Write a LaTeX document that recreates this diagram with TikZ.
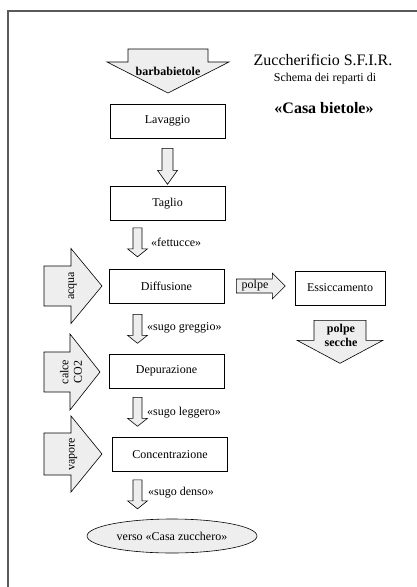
\documentclass[tikz,border=0pt]{standalone}
\usepackage{fontspec}
\setmainfont{Liberation Serif}
\usetikzlibrary{positioning,shapes.geometric}
\definecolor{arrGray}{HTML}{EEEEEE}
\definecolor{frameGray}{HTML}{5A5A5A}

\begin{document}
\begin{tikzpicture}[
x=1pt, y=-1pt,
every node/.style={font=\fontsize{12}{13.5}\selectfont},
stage/.style={draw, line width=0.6pt, align=center, inner sep=3pt, minimum width=115pt, minimum height=34pt},
exitnode/.style={draw, ellipse, line width=0.6pt, fill=arrGray, minimum width=170pt, minimum height=34pt, inner sep=1pt},
blk/.style={draw, line width=0.6pt, fill=arrGray, line join=miter},
feed/.style={rotate=90, align=center, inner sep=0pt},
flow/.style={anchor=west, inner sep=0pt},
heavy/.style={font=\fontsize{12}{14}\selectfont\bfseries, align=center, inner sep=0pt},
titleT/.style={font=\fontsize{16}{18}\selectfont}
]
\useasboundingbox (0,0) rectangle (416,587);
% cropped frame
\draw[frameGray, line width=1.6pt, line join=miter] (8,600) -- (8,11) -- (430,11);

% title block
\node[titleT] (title) at (323,60) {Zuccherificio S.F.I.R.};
\node (sub) at (325,79) {Schema dei reparti di};
\node[titleT, font=\fontsize{16}{18}\selectfont\bfseries] (casa) at (324,108) {«Casa bietole»};

% departments
\node[stage] (lav) at (167.5,121) {Lavaggio};
\node[stage] (tag) at (167.5,203.5) {Taglio};
\node[stage] (dif) at (166.5,286) {Diffusione};
\node[stage] (dep) at (166.5,371) {Depurazione};
\node[stage] (con) at (170,454.5) {Concentrazione};
\node[stage, minimum width=90pt] (ess) at (340,288) {Essiccamento};
\node[exitnode] (out) at (172,536) {verso «Casa zucchero»};

% input: beets
\coordinate (bb) at (168,49);
\draw[blk] (bb) ++(-40,0) -- ++(0,13) -- ++(-21,0) -- ++(61,31) -- ++(61,-31) -- ++(-21,0) -- ++(0,-13) -- cycle;
\node[heavy] (tbb) at (168,71) {barbabietole};

% main line
\coordinate (fA) at ([yshift=-10pt]lav.south);
\draw[blk] (fA) ++(-5.5,0) -- ++(0,22) -- ++(-4.5,0) -- ++(10,14) -- ++(10,-14) -- ++(-4.5,0) -- ++(0,-22) -- cycle;

\coordinate (fB) at ([xshift=-30pt,yshift=-7pt]tag.south);
\draw[blk] (fB) ++(-4.5,0) -- ++(0,21) -- ++(-5.5,0) -- ++(10,8) -- ++(10,-8) -- ++(-5.5,0) -- ++(0,-21) -- cycle;
\node[flow] (lfet) at (151,242) {«fettucce»};

\coordinate (fC) at ([xshift=-29pt,yshift=-11pt]dif.south);
\draw[blk] (fC) ++(-4.5,0) -- ++(0,21) -- ++(-5.5,0) -- ++(10,8) -- ++(10,-8) -- ++(-5.5,0) -- ++(0,-21) -- cycle;
\node[flow] (lgre) at (147,328) {«sugo greggio»};

\coordinate (fD) at ([xshift=-29pt,yshift=-9pt]dep.south);
\draw[blk] (fD) ++(-4.5,0) -- ++(0,21) -- ++(-5.5,0) -- ++(10,8) -- ++(10,-8) -- ++(-5.5,0) -- ++(0,-21) -- cycle;
\node[flow] (lleg) at (147,413) {«sugo leggero»};

\coordinate (fE) at ([xshift=-32.5pt,yshift=-8pt]con.south);
\draw[blk] (fE) ++(-4.5,0) -- ++(0,21) -- ++(-5.5,0) -- ++(10,8) -- ++(10,-8) -- ++(-5.5,0) -- ++(0,-21) -- cycle;
\node[flow] (lden) at (148,493) {«sugo denso»};

% side feeds
\coordinate (aq) at (44,286);
\draw[blk] (aq) ++(0,-20) -- ++(27,0) -- ++(0,-17.5) -- ++(31,37.5) -- ++(-31,37.5) -- ++(0,-17.5) -- ++(-27,0) -- cycle;
\node[feed] (tacq) at (72.5,286) {acqua};

\coordinate (cc) at (44,372);
\draw[blk] (cc) ++(0,-20) -- ++(26,0) -- ++(0,-18) -- ++(30,38) -- ++(-30,38) -- ++(0,-18) -- ++(-26,0) -- cycle;
\node[feed] (tcal) at (71,372) {calce\\CO2};

\coordinate (vp) at (44,454);
\draw[blk] (vp) ++(0,-21) -- ++(27,0) -- ++(0,-17) -- ++(31,38) -- ++(-31,38) -- ++(0,-17) -- ++(-27,0) -- cycle;
\node[feed] (tvap) at (73,454) {vapore};

% pulp branch
\coordinate (pp) at ([xshift=12pt]dif.east);
\draw[blk] (pp) ++(0,-7) -- ++(36,0) -- ++(0,-6) -- ++(13,13) -- ++(-13,13) -- ++(0,-6) -- ++(-36,0) -- cycle;
\node[inner sep=0pt] (tpol) at (255,286) {polpe};

\coordinate (ps) at ([yshift=-15pt]ess.south);
\draw[blk] (ps) ++(-26,0) -- ++(0,20) -- ++(-17,0) -- ++(43,23) -- ++(43,-23) -- ++(-17,0) -- ++(0,-20) -- cycle;
\node[heavy] (tsec) at (341,335) {polpe\\secche};

\end{tikzpicture}
\end{document}
